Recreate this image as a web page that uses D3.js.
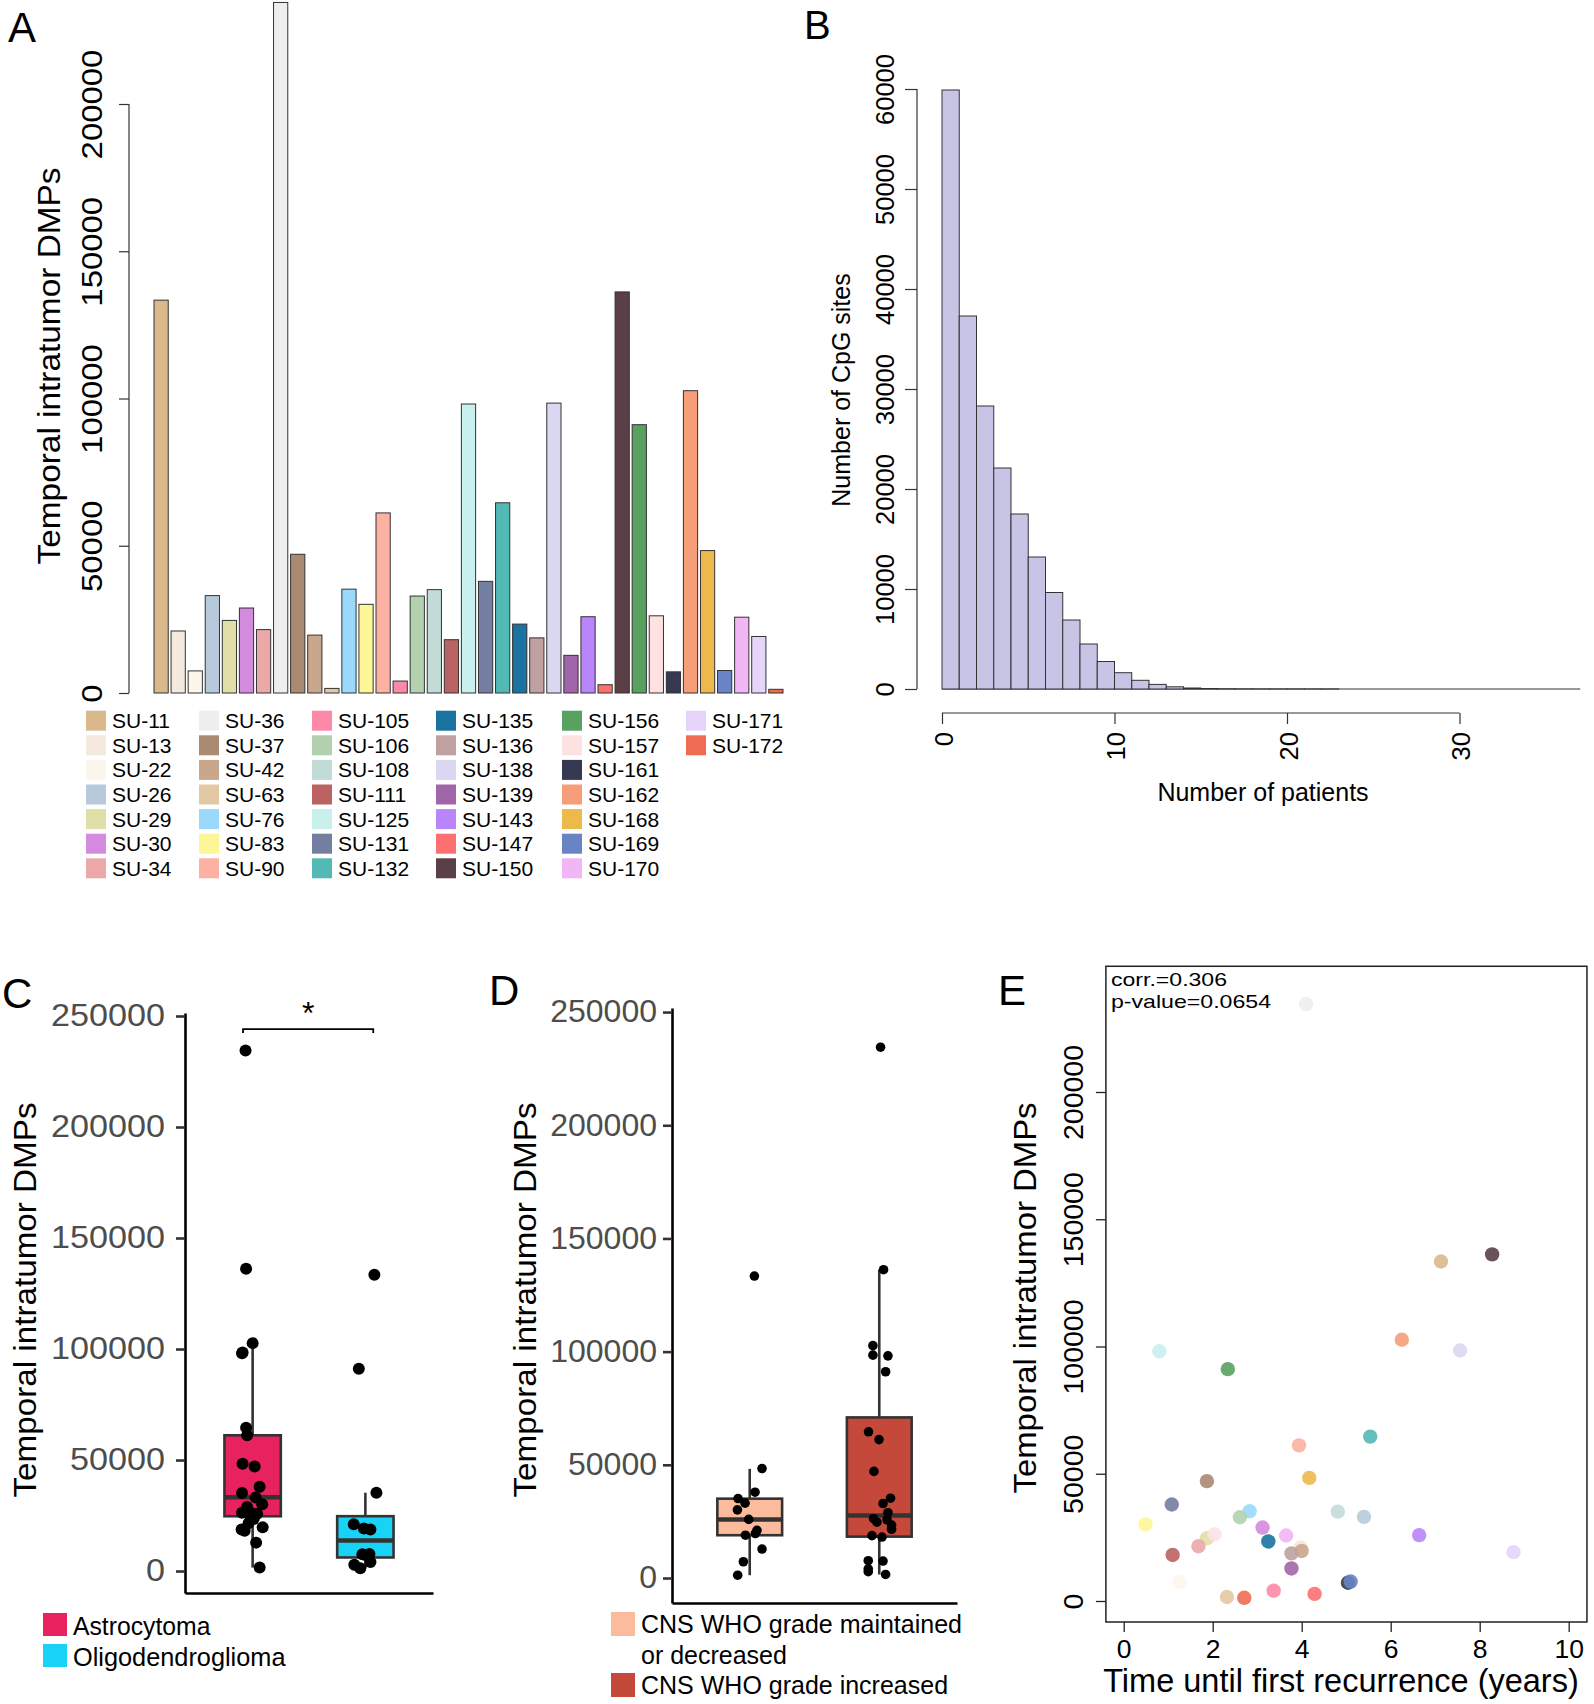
<!DOCTYPE html>
<html><head><meta charset="utf-8">
<script src="https://cdn.jsdelivr.net/npm/d3@7"></script>
<style>body{margin:0;background:#fff} text{font-family:"Liberation Sans",Arial,sans-serif}</style>
</head><body><svg id="fig" width="1594" height="1704"></svg>
<script>
// ---------------- DATA ----------------
const samples = ["SU-11","SU-13","SU-22","SU-26","SU-29","SU-30","SU-34","SU-36","SU-37","SU-42","SU-63","SU-76","SU-83","SU-90","SU-105","SU-106","SU-108","SU-111","SU-125","SU-131","SU-132","SU-135","SU-136","SU-138","SU-139","SU-143","SU-147","SU-150","SU-156","SU-157","SU-161","SU-162","SU-168","SU-169","SU-170","SU-171","SU-172"];
const temporalDMPs = [133400,21060,7500,33070,24650,28860,21530,234480,47100,19660,1560,35260,30110,61150,4060,32920,35100,18100,98130,37910,64590,23400,18720,98440,12790,25900,2810,136190,91110,26210,7180,102650,48360,7640,25740,19190,1250];
const sampleColors = ["#D9B98B","#F3E9DD","#FDF6EC","#B7CADC","#E0DFA9","#D48BDD","#EBA8A8","#EEEEEE","#A98A72","#C9A78D","#E3C9A3","#9AD9FB","#FDF697","#FCB1A2","#FD89A9","#B3D1AF","#C2DBD7","#BA6362","#C9F0ED","#737EA0","#53B9B5","#19729F","#C0A1A1","#DAD7F1","#A166A9","#B985FA","#FD7070","#5B3F47","#58A161","#FEE2E2","#363952","#F69D79","#EDB94B","#6884C5","#F1B6F6","#E7D4FB","#EF6B51"];
const recurrenceYears = [7.13,3.98,1.25,5.40,1.87,3.12,1.68,4.10,1.87,4.00,2.32,2.83,0.49,3.94,3.37,2.61,4.81,1.10,0.80,1.08,5.54,3.25,3.77,7.56,3.77,6.64,4.29,8.28,2.34,2.04,5.04,6.25,4.17,5.10,3.65,8.76,2.71];
const yTicksA = [0,50000,100000,150000,200000];

const cpgBinCounts = [59900,37300,28300,22100,17500,13200,9650,6900,4500,2750,1630,870,460,220,100,50,25,12,6,3,2,1,1,0,0,0,0,0,0,0,0,0,0,0,0,0,0];
const yTicksB = [0,10000,20000,30000,40000,50000,60000];
const xTicksB = [0,10,20,30];

const groupsC = ["Astrocytoma","Oligodendroglioma"];
const groupColorsC = ["#E8215F","#19D3F7"];
const boxLoC = [1560,1250], boxQ1C = [24670,6100], boxMedC = [33190,13760], boxQ3C = [61140,24700], boxHiC = [102650,35260];
const astroValues = [234480,136190,102650,98440,98130,64590,61150,48360,47100,37910,35100,33070,30110,28860,26210,25900,25740,24650,21530,19660,18720,18100,12790,1560,23400];
const astroJitter = [-0.063,-0.058,0,-0.089,-0.094,-0.058,-0.049,-0.089,0.018,0.062,-0.094,0.027,0.085,-0.049,-0.094,-0.004,0.04,-0.018,-0.036,0.089,-0.098,-0.071,0.031,0.062,0.009];
const oligoValues = [133400,91110,35260,21060,19190,18720,7500,7640,2810,1250,4060,7180];
const oligoJitter = [0.08,-0.058,0.098,-0.103,-0.013,0.045,-0.027,0.036,-0.098,-0.045,0.045,0];
const yTicksCD = [0,50000,100000,150000,200000,250000];

const groupsD = ["CNS WHO grade maintained|or decreased","CNS WHO grade increased"];
const groupColorsD = ["#FDBB9E","#C4493A"];
const boxLoD = [1250,1560], boxQ1D = [18900,18270], boxMedD = [25900,27610], boxQ3D = [35050,70940], boxHiD = [48200,136190];
const maintainedValues = [133400,48360,37910,35100,33070,30110,25900,21060,18900,19660,12790,7180,1250];
const maintainedJitter = [0.036,0.095,0.041,-0.09,-0.036,-0.095,-0.008,0.056,-0.033,0.044,0.095,-0.049,-0.093];
const increasedValues = [234480,136190,102650,98440,98130,91110,64590,61150,47100,35260,32920,28860,26210,24650,23400,21530,18720,18100,7640,7500,2810,1560,4060,25740];
const increasedJitter = [0.01,0.033,-0.049,-0.049,0.067,0.049,-0.083,-0.002,-0.041,0.087,0.029,0.067,-0.044,-0.018,0.095,0.095,-0.056,0.021,-0.085,0.029,-0.085,0.049,-0.085,0.06];

const xTicksE = [0,2,4,6,8,10];
const yTicksE = [0,50000,100000,150000,200000];
const statsE = ["corr.=0.306","p-value=0.0654"];

// ---------------- DRAW ----------------
const svg = d3.select("#fig");
svg.append("rect").attr("width",1594).attr("height",1704).attr("fill","#fff");

function rtext(g,x,y,txt,size,opt={}){
  const t = g.append("text").attr("transform",`translate(${x},${y}) rotate(-90)`)
    .attr("text-anchor",opt.anchor||"middle").attr("font-size",size).attr("fill",opt.fill||"#000").text(txt);
  if(opt.len){t.attr("textLength",opt.len).attr("lengthAdjust","spacingAndGlyphs");}
  return t;
}
function label(x,y,t,s){svg.append("text").attr("x",x).attr("y",y).attr("font-size",s).text(t);}
label(8,42,"A",42); label(804,39,"B",40); label(2,1008,"C",42); label(489,1005,"D",42); label(998,1005,"E",42);

// ===== Panel A =====
const gA = svg.append("g");
const xA = d3.scaleBand().domain(samples).range([154,783]).paddingInner(1/6).paddingOuter(0);
const yA = d3.scaleLinear().domain([0,200000]).range([693,104]);
gA.selectAll("rect.bar").data(samples).join("rect").attr("class","bar")
  .attr("x",d=>xA(d)).attr("width",xA.bandwidth())
  .attr("y",(d,i)=>yA(temporalDMPs[i])).attr("height",(d,i)=>yA(0)-yA(temporalDMPs[i]))
  .attr("fill",(d,i)=>sampleColors[i]).attr("stroke","#333").attr("stroke-width",1);
const axA = gA.append("g").attr("transform","translate(129,0)")
  .call(d3.axisLeft(yA).tickValues(yTicksA).tickSize(10).tickSizeOuter(0).tickFormat(d3.format("d")));
axA.select(".domain").remove();
axA.append("line").attr("y1",yA(yTicksA[0])).attr("y2",yA(yTicksA[yTicksA.length-1])).attr("stroke","#333").attr("stroke-width",1.2);
axA.selectAll(".tick line").attr("stroke","#333").attr("stroke-width",1.2);
axA.selectAll(".tick text").each(function(d){
  const s=d3.format("d")(d);
  d3.select(this).attr("x",null).attr("dy",null).attr("transform","translate(-27,0) rotate(-90)")
   .attr("text-anchor","middle").attr("font-size",29).attr("fill","#000")
   .attr("textLength",s.length*18.3).attr("lengthAdjust","spacingAndGlyphs");
});
rtext(gA,60,366,"Temporal intratumor DMPs",31,{len:397});
// legend A
const colXA = [86,199,312,436,562,686];
const legA = gA.append("g");
samples.forEach((s,i)=>{
  const c=Math.floor(i/7), r=i%7, cy=720.7+r*24.6;
  legA.append("rect").attr("x",colXA[c]).attr("y",cy-10).attr("width",20).attr("height",20).attr("fill",sampleColors[i]);
  legA.append("text").attr("x",colXA[c]+26).attr("y",cy+7.5).attr("font-size",21).text(s);
});

// ===== Panel B =====
const gB = svg.append("g");
const xB = d3.scaleLinear().domain([0,30]).range([942,1459.5]);
const yB = d3.scaleLinear().domain([0,60000]).range([689,89]);
gB.append("line").attr("x1",xB(0)).attr("x2",xB(cpgBinCounts.length)).attr("y1",yB(0)).attr("y2",yB(0)).attr("stroke","#333").attr("stroke-width",1.2);
gB.selectAll("rect.h").data(cpgBinCounts.map((c,i)=>({c,i})).filter(d=>d.c>0)).join("rect").attr("class","h")
  .attr("x",d=>xB(d.i)).attr("width",d=>xB(d.i+1)-xB(d.i))
  .attr("y",d=>yB(d.c)).attr("height",d=>yB(0)-yB(d.c))
  .attr("fill","#C8C4E6").attr("stroke","#333").attr("stroke-width",1);
const axBy = gB.append("g").attr("transform","translate(917,0)")
  .call(d3.axisLeft(yB).tickValues(yTicksB).tickSize(12).tickSizeOuter(0).tickFormat(d3.format("d")));
axBy.select(".domain").remove();
axBy.append("line").attr("y1",yB(0)).attr("y2",yB(60000)).attr("stroke","#333").attr("stroke-width",1.2);
axBy.selectAll(".tick line").attr("stroke","#333").attr("stroke-width",1.2);
axBy.selectAll(".tick text").attr("x",null).attr("dy",null).attr("transform","translate(-23,0) rotate(-90)")
  .attr("text-anchor","middle").attr("font-size",25.5).attr("fill","#000");
const axBx = gB.append("g").attr("transform","translate(0,713)")
  .call(d3.axisBottom(xB).tickValues(xTicksB).tickSize(11).tickSizeOuter(0));
axBx.select(".domain").remove();
axBx.append("line").attr("x1",xB(0)).attr("x2",xB(30)).attr("stroke","#333").attr("stroke-width",1.2);
axBx.selectAll(".tick line").attr("stroke","#333").attr("stroke-width",1.2);
axBx.selectAll(".tick text").attr("y",null).attr("dy",null).attr("transform","translate(10,19) rotate(-90)")
  .attr("text-anchor","end").attr("font-size",25.5).attr("fill","#000");
rtext(gB,850,390,"Number of CpG sites",25);
gB.append("text").attr("x",1263).attr("y",801).attr("text-anchor","middle").attr("font-size",25).text("Number of patients");

// ===== Box panels helper =====
function boxPanel(cfg){
  const g = svg.append("g");
  const x = d3.scaleLinear().domain([0.4,2.6]).range(cfg.xr);
  const y = d3.scaleLinear().domain(cfg.yd).range(cfg.yr);
  const half = (x(1.25)-x(1));
  cfg.colors.forEach((col,i)=>{
    const cx = x(i+1);
    g.append("line").attr("x1",cx).attr("x2",cx).attr("y1",y(cfg.lo[i])).attr("y2",y(cfg.hi[i])).attr("stroke","#333").attr("stroke-width",2.6);
    g.append("rect").attr("x",cx-half).attr("width",2*half).attr("y",y(cfg.q3[i])).attr("height",y(cfg.q1[i])-y(cfg.q3[i]))
      .attr("fill",col).attr("stroke","#333").attr("stroke-width",2.6);
    g.append("line").attr("x1",cx-half).attr("x2",cx+half).attr("y1",y(cfg.med[i])).attr("y2",y(cfg.med[i])).attr("stroke","#333").attr("stroke-width",4.5);
    g.selectAll(null).data(cfg.pts[i]).join("circle")
      .attr("cx",(d,j)=>x(i+1+cfg.jit[i][j])).attr("cy",d=>y(d)).attr("r",cfg.r).attr("fill","#000");
  });
  const ay = g.append("g").attr("transform",`translate(${cfg.xr[0]},0)`)
    .call(d3.axisLeft(y).tickValues(yTicksCD).tickSize(9).tickPadding(cfg.pad).tickSizeOuter(0).tickFormat(d3.format("d")));
  ay.select(".domain").attr("stroke","#000").attr("stroke-width",2.6);
  ay.selectAll(".tick line").attr("stroke","#333").attr("stroke-width",2.6);
  ay.selectAll(".tick text").attr("font-size",31).attr("fill","#4D4D4D")
    .each(function(d){const s=d3.format("d")(d);d3.select(this).attr("textLength",s.length*cfg.cw).attr("lengthAdjust","spacingAndGlyphs");});
  const ax = g.append("g").attr("transform",`translate(0,${cfg.yr[0]})`)
    .call(d3.axisBottom(x).tickValues([]).tickSizeOuter(0));
  ax.select(".domain").attr("stroke","#000").attr("stroke-width",2.6);
  rtext(g,cfg.titleX,1300,"Temporal intratumor DMPs",31,{len:395});
  return {g,x,y};
}

// ===== Panel C =====
const C = boxPanel({xr:[185,433], yd:[-9900,251350], yr:[1593,1013], colors:groupColorsC,
  lo:boxLoC,q1:boxQ1C,med:boxMedC,q3:boxQ3C,hi:boxHiC, pts:[astroValues,oligoValues], jit:[astroJitter,oligoJitter],
  r:6, pad:11, cw:19, titleX:36});
// significance bracket
const brX = [0.915,2.07], brY = [244100,242300];
C.g.append("path").attr("d",`M${C.x(brX[0])},${C.y(brY[1])}V${C.y(brY[0])}H${C.x(brX[1])}V${C.y(brY[1])}`)
  .attr("fill","none").attr("stroke","#000").attr("stroke-width",1.8);
C.g.append("text").attr("x",(C.x(brX[0])+C.x(brX[1]))/2).attr("y",1024).attr("text-anchor","middle").attr("font-size",32).text("*");
groupsC.forEach((n,i)=>{
  const top = 1613+i*31;
  C.g.append("rect").attr("x",43).attr("y",top).attr("width",24).attr("height",23).attr("fill",groupColorsC[i]);
  C.g.append("text").attr("x",73).attr("y",top+22).attr("font-size",25).attr("textLength",n.length*12.5).attr("lengthAdjust","spacingAndGlyphs").text(n);
});

// ===== Panel D =====
const D = boxPanel({xr:[672,957], yd:[-11040,251800], yr:[1603,1008], colors:groupColorsD,
  lo:boxLoD,q1:boxQ1D,med:boxMedD,q3:boxQ3D,hi:boxHiD, pts:[maintainedValues,increasedValues], jit:[maintainedJitter,increasedJitter],
  r:4.8, pad:6, cw:17.8, titleX:536});
[0,1].forEach(i=>{
  const top = i===0?1612:1673;
  D.g.append("rect").attr("x",611).attr("y",top).attr("width",24).attr("height",24).attr("fill",groupColorsD[i]);
  const lines = groupsD[i].split("|");
  lines.forEach((l,k)=>D.g.append("text").attr("x",641).attr("y",top+21+k*31).attr("font-size",25).text(l));
});

// ===== Panel E =====
const gE = svg.append("g");
const xE = d3.scaleLinear().domain([0,10]).range([1123.7,1568.7]);
const yE = d3.scaleLinear().domain([0,200000]).range([1601,1092]);
const limXE=[-0.4,10.41], limYE=[-8250,249400];
gE.selectAll("circle").data(samples).join("circle")
  .attr("cx",(d,i)=>xE(recurrenceYears[i])).attr("cy",(d,i)=>yE(temporalDMPs[i])).attr("r",7.2)
  .attr("fill",(d,i)=>sampleColors[i]).attr("fill-opacity",0.9);
gE.append("rect").attr("x",xE(limXE[0])).attr("y",yE(limYE[1])).attr("width",xE(limXE[1])-xE(limXE[0])).attr("height",yE(limYE[0])-yE(limYE[1]))
  .attr("fill","none").attr("stroke","#222").attr("stroke-width",1.5);
const axEy = gE.append("g").attr("transform",`translate(${xE(limXE[0])},0)`)
  .call(d3.axisLeft(yE).tickValues(yTicksE).tickSize(10).tickSizeOuter(0).tickFormat(d3.format("d")));
axEy.select(".domain").remove();
axEy.selectAll(".tick line").attr("stroke","#222").attr("stroke-width",1.3);
axEy.selectAll(".tick text").attr("x",null).attr("dy",null).attr("transform","translate(-23,0) rotate(-90)")
  .attr("text-anchor","middle").attr("font-size",28.5).attr("fill","#000");
const axEx = gE.append("g").attr("transform",`translate(0,${yE(limYE[0])})`)
  .call(d3.axisBottom(xE).tickValues(xTicksE).tickSize(10).tickPadding(7).tickSizeOuter(0));
axEx.select(".domain").remove();
axEx.selectAll(".tick line").attr("stroke","#222").attr("stroke-width",1.3);
axEx.selectAll(".tick text").attr("font-size",26.5).attr("fill","#000");
rtext(gE,1036,1298,"Temporal intratumor DMPs",32,{len:391});
gE.append("text").attr("x",1341).attr("y",1692).attr("text-anchor","middle").attr("font-size",32.5).text("Time until first recurrence (years)");
const statLen = [116,160];
statsE.forEach((s,i)=>gE.append("text").attr("x",1111).attr("y",986+i*21.7).attr("font-size",19)
  .attr("textLength",statLen[i]).attr("lengthAdjust","spacingAndGlyphs").text(s));
</script></body></html>
